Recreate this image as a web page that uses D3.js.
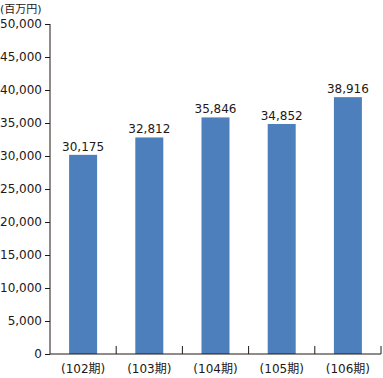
<!DOCTYPE html>
<html>
<head>
<meta charset="utf-8">
<script src="https://cdn.jsdelivr.net/npm/d3@7"></script>
<style>
  body { margin: 0; background: #fff; }
  text { font-family: "DejaVu Sans", "Noto Sans CJK JP", sans-serif; fill: #231815; }
</style>
</head>
<body>
<div id="chart"></div>
<script>
// data
const periods = ['(102期)', '(103期)', '(104期)', '(105期)', '(106期)'];
const sales = [30175, 32812, 35846, 34852, 38916];
const yTicks = [0, 5000, 10000, 15000, 20000, 25000, 30000, 35000, 40000, 45000, 50000];
const unitLabel = '(百万円)';

const width = 383, height = 378;
const plot = { left: 50, right: 381, top: 24, bottom: 354 };

const svg = d3.select('#chart').append('svg')
  .attr('width', width)
  .attr('height', height);

const x = d3.scaleBand()
  .domain(periods)
  .range([plot.left, plot.right]);

const y = d3.scaleLinear()
  .domain([0, 50000])
  .range([plot.bottom, plot.top]);

const fmt = d3.format(',');
const barW = 28;

// bars
svg.selectAll('.bar')
  .data(periods)
  .enter()
  .append('rect')
  .attr('class', 'bar')
  .attr('x', d => x(d) + x.bandwidth() / 2 - barW / 2)
  .attr('y', (d, i) => y(sales[i]))
  .attr('width', barW)
  .attr('height', (d, i) => plot.bottom - y(sales[i]))
  .attr('fill', '#4d7fbd');

// value labels
svg.selectAll('.val')
  .data(periods)
  .enter()
  .append('text')
  .attr('class', 'val')
  .attr('x', d => x(d) + x.bandwidth() / 2)
  .attr('y', (d, i) => y(sales[i]) - 4)
  .attr('text-anchor', 'middle')
  .style('font-size', '12px')
  .text((d, i) => fmt(sales[i]));

// y axis
const yAxis = svg.append('g')
  .attr('transform', `translate(${plot.left},0)`)
  .call(d3.axisLeft(y).tickValues(yTicks).tickFormat(fmt).tickSize(5).tickPadding(3));
yAxis.select('.domain').attr('stroke', '#231815').attr('d', `M0,${plot.top}V${plot.bottom}`);
yAxis.selectAll('.tick line').attr('stroke', '#231815');
yAxis.selectAll('.tick text')
  .style('font-size', '12px')
  .style('font-family', '"DejaVu Sans", "Noto Sans CJK JP", sans-serif')
  .attr('fill', '#231815');

// x axis
const xAxis = svg.append('g')
  .attr('transform', `translate(0,${plot.bottom})`)
  .call(d3.axisBottom(x).tickSize(0).tickPadding(10));
xAxis.select('.domain').attr('stroke', '#231815').attr('d', `M${plot.left},0H${plot.right}`);
xAxis.selectAll('.tick text')
  .style('font-size', '12px')
  .style('font-family', '"DejaVu Sans", "Noto Sans CJK JP", sans-serif')
  .attr('fill', '#231815');

// separators between categories
svg.selectAll('.sep')
  .data(periods)
  .enter()
  .append('line')
  .attr('class', 'sep')
  .attr('x1', d => x(d) + x.bandwidth())
  .attr('x2', d => x(d) + x.bandwidth())
  .attr('y1', plot.bottom)
  .attr('y2', plot.bottom - 8)
  .attr('stroke', '#231815');

// unit
svg.append('text')
  .attr('x', 0)
  .attr('y', 13)
  .style('font-size', '11px')
  .text(unitLabel);
</script>
</body>
</html>
